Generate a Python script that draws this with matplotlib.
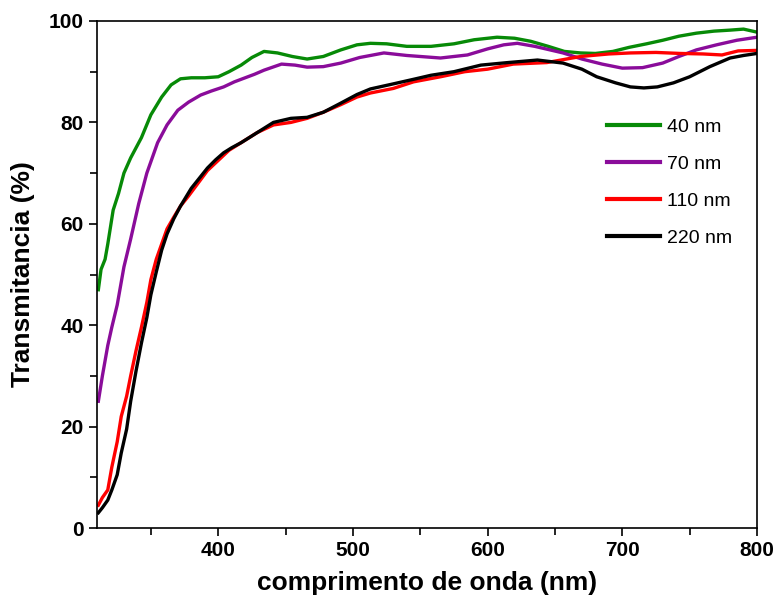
import numpy as np
import matplotlib.pyplot as plt
from matplotlib.ticker import MultipleLocator

plt.rcParams['font.family'] = ['Liberation Sans', 'DejaVu Sans']

# valores (comprimento de onda em nm, transmitância em %)
wl_40 = [311, 313, 316, 318, 322, 326, 330, 335, 343, 350, 358, 365, 372, 380, 390, 400, 408, 417, 425,
         434, 444, 455, 466, 478, 491, 503, 513, 525, 540, 558, 575, 590, 607, 620, 632, 645, 657,
         669, 680, 693, 705, 718, 730, 742, 755, 768, 780, 790, 800]
tr_40 = [47, 51, 53, 56, 62.7, 66, 70, 73, 77, 81.5, 85, 87.4, 88.6, 88.8, 88.8, 89, 90, 91.3, 92.8,
         94, 93.7, 93, 92.5, 93, 94.3, 95.3, 95.6, 95.5, 95, 95, 95.5, 96.3, 96.8, 96.6, 96, 95,
         94, 93.7, 93.6, 94, 94.8, 95.5, 96.2, 97, 97.6, 98, 98.2, 98.4, 97.8]

wl_70 = [311, 314, 318, 321, 325, 330, 335, 341, 347, 355, 362, 370, 378, 387, 395, 404, 412, 419,
         427, 434, 447, 457, 466, 478, 491, 505, 523, 540, 565, 585, 600, 612, 622, 635, 656,
         670, 685, 700, 715, 730, 742, 755, 770, 785, 800]
tr_70 = [25, 30, 36, 39.6, 44, 51.5, 57, 64, 70, 76, 79.5, 82.4, 84, 85.4, 86.2, 87, 88, 88.7,
         89.5, 90.3, 91.5, 91.3, 90.9, 91, 91.7, 92.8, 93.7, 93.2, 92.7, 93.3, 94.5, 95.3, 95.6, 95, 93.7,
         92.5, 91.5, 90.7, 90.8, 91.7, 93, 94.3, 95.3, 96.2, 96.8]

wl_110 = [311, 314, 318, 321, 325, 328, 332, 335, 339, 343, 347, 350, 354, 358, 362, 367, 372, 378,
          385, 392, 400, 408, 417, 429, 441, 454, 466, 478, 491, 503, 513, 530, 545, 565, 583, 600,
          619, 644, 669, 690, 706, 725, 743, 760, 774, 786, 800]
tr_110 = [4.5, 6, 7.5, 12, 17, 22, 26, 30, 35, 39.6, 44.5, 49, 53, 56, 59, 61.3, 63.5, 65.5,
          68, 70.5, 72.5, 74.5, 76, 78, 79.5, 80, 80.8, 82, 83.5, 85, 85.8, 86.7, 88, 89, 90, 90.5,
          91.5, 91.8, 93, 93.5, 93.7, 93.8, 93.6, 93.5, 93.3, 94.1, 94.2]

wl_220 = [311, 314, 318, 321, 325, 328, 332, 335, 339, 343, 347, 350, 354, 358, 362, 367, 372, 380,
          386, 392, 398, 404, 410, 417, 429, 441, 454, 466, 478, 491, 503, 513, 530, 545, 558, 575, 595,
          615, 637, 656, 670, 681, 695, 706, 716, 726, 738, 750, 765, 780, 790, 800]
tr_220 = [3, 4, 5.5, 7.5, 10.5, 14.8, 19.5, 25, 31, 36.5, 41.5, 46, 50.5, 54.8, 58, 61, 63.5, 67,
          69, 71, 72.6, 74, 75, 76, 78, 80, 80.8, 81, 82, 83.8, 85.5, 86.6, 87.6, 88.5, 89.3, 90, 91.3,
          91.8, 92.3, 91.7, 90.5, 89, 87.8, 87, 86.8, 87, 87.8, 89, 91, 92.7, 93.2, 93.6]

series = [
    (wl_40, tr_40, "#078a07", "40 nm"),
    (wl_70, tr_70, "#8a0c9a", "70 nm"),
    (wl_110, tr_110, "#ff0000", "110 nm"),
    (wl_220, tr_220, "#000000", "220 nm"),
]

fig = plt.figure(figsize=(7.8, 6.1), dpi=100)
ax = fig.add_axes([97 / 780, 82 / 610, 660 / 780, 507 / 610])

for wl, tr, cor, nome in series:
    ax.plot(wl, tr, color=cor, lw=2.4, label=nome)

ax.set_xlim(310, 800)
ax.set_ylim(0, 100)
ax.xaxis.set_major_locator(MultipleLocator(100))
ax.xaxis.set_minor_locator(MultipleLocator(50))
ax.yaxis.set_major_locator(MultipleLocator(20))
ax.yaxis.set_minor_locator(MultipleLocator(10))
ax.tick_params(which='both', direction='out', width=1.2, labelsize=15)
ax.tick_params(which='major', length=6)
ax.tick_params(which='minor', length=5)
for lab in ax.get_xticklabels() + ax.get_yticklabels():
    lab.set_fontweight('bold')
for s in ax.spines.values():
    s.set_linewidth(1.2)

ax.set_xlabel("comprimento de onda (nm)", fontsize=19, fontweight='bold', labelpad=8)
ax.set_ylabel("Transmitancia (%)", fontsize=19, fontweight='bold', labelpad=10)

leg = ax.legend(loc='upper left', bbox_to_anchor=(0.761, 0.824), borderaxespad=0, frameon=False,
                prop={'size': 14}, handlelength=2.7, handletextpad=0.36, labelspacing=1.0)
for h in leg.get_lines():
    h.set_linewidth(3)

plt.savefig("out.png", dpi=100)
